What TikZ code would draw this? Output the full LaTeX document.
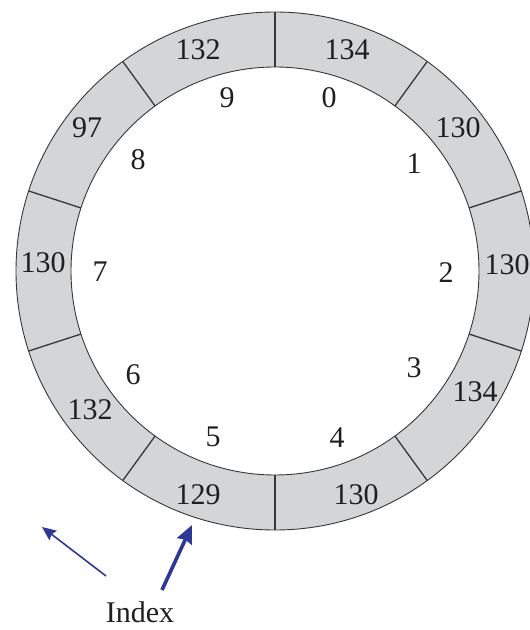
\documentclass[tikz,border=0pt]{standalone}
\usepackage{fontspec}
\setmainfont{Liberation Serif}
\usetikzlibrary{arrows.meta}
\definecolor{ringgray}{RGB}{212,213,215}
\definecolor{ringline}{RGB}{55,55,55}
\definecolor{arrowblue}{RGB}{45,55,150}
\begin{document}
\begin{tikzpicture}[x=1pt,y=1pt,
  lbl/.style={font=\fontsize{30}{30}\selectfont, inner sep=0pt, text=black!88},
  ringedge/.style={ringline, line width=0.9pt},
  divider/.style={ringline, line width=1.3pt},
  thinarrow/.style={arrowblue, line width=1.6pt, -{Stealth[length=14pt,width=12pt,inset=2pt]}},
  thickarrow/.style={arrowblue, line width=3.6pt, -{Stealth[length=18pt,width=16pt,inset=2pt]}}]
\useasboundingbox (0,0) rectangle (530,630);
\clip (0,0) rectangle (530,630);
\coordinate (c) at (275,359);
\fill[ringgray, even odd rule] (c) circle[radius=259pt] (c) circle[radius=204pt];
\draw[ringedge] (c) circle[radius=259pt];
\draw[ringedge] (c) circle[radius=204pt];
\foreach \a in {18,54,...,342}
  \draw[divider, shift={(c)}] (\a:204pt) -- (\a:259pt);
% values in the ring
\node[lbl] (v0) at (347,580) {134};
\node[lbl] (v1) at (458,502) {130};
\node[lbl] (v2) at (507,365) {130};
\node[lbl] (v3) at (475,238) {134};
\node[lbl] (v4) at (356,135) {130};
\node[lbl] (v5) at (198,135) {129};
\node[lbl] (v6) at (90,220) {132};
\node[lbl] (v7) at (43,367) {130};
\node[lbl] (v8) at (87,502) {97};
\node[lbl] (v9) at (198,580) {132};
% indices
\node[lbl] (i0) at (329,532) {0};
\node[lbl] (i1) at (414,466) {1};
\node[lbl] (i2) at (446,357) {2};
\node[lbl] (i3) at (414,262) {3};
\node[lbl] (i4) at (337,192) {4};
\node[lbl] (i5) at (213,193) {5};
\node[lbl] (i6) at (133,255) {6};
\node[lbl] (i7) at (100,358) {7};
\node[lbl] (i8) at (138,470) {8};
\node[lbl] (i9) at (227,532) {9};
% index pointers
\node[lbl] (index) at (140,18) {Index};
\coordinate (t1) at (106,54);
\coordinate (h1) at (42,103);
\coordinate (t2) at (162,40);
\coordinate (h2) at (192,105);
\draw[thinarrow] (t1) -- (h1);
\draw[thickarrow] (t2) -- (h2);
\end{tikzpicture}
\end{document}
